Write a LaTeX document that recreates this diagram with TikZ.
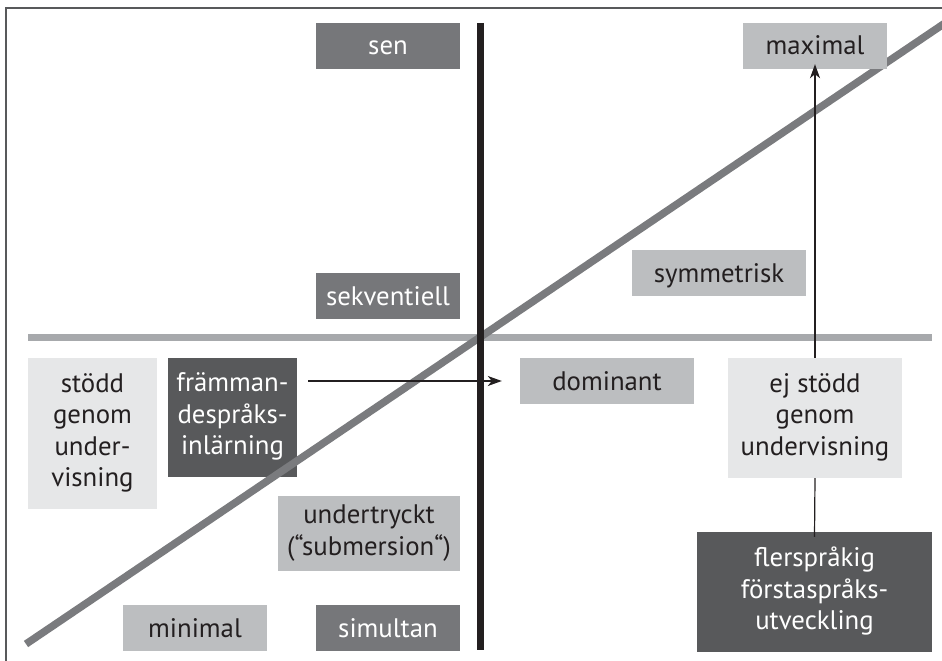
\documentclass[tikz,border=0pt]{standalone}
\usepackage{fontspec}
\setmainfont{PT Sans}
\usetikzlibrary{arrows.meta}

\definecolor{inkdark}{HTML}{231F20}
\definecolor{boxmid}{HTML}{76777A}
\definecolor{boxdeep}{HTML}{58595B}
\definecolor{boxlight}{HTML}{BCBEC0}
\definecolor{boxpale}{HTML}{E6E7E8}
\definecolor{axisgray}{HTML}{A7A9AC}
\definecolor{diaggray}{HTML}{7A7B7E}
\definecolor{framegray}{HTML}{58595B}

\tikzset{
  cell/.style={rectangle, inner sep=0pt, align=center,
    font=\fontsize{26.8}{31.5}\selectfont,
    execute at begin node={\rule{0pt}{25pt}},
    execute at end node={\rule[-7pt]{0pt}{7pt}}},
  midcell/.style={cell, fill=boxmid, text=white},
  deepcell/.style={cell, fill=boxdeep, text=white},
  lightcell/.style={cell, fill=boxlight, text=inkdark},
  palecell/.style={cell, fill=boxpale, text=inkdark},
  link/.style={draw=inkdark, line width=1.2pt},
  tip/.style={-{Stealth[length=14pt, width=10pt, inset=4pt]}},
}

\begin{document}
\begin{tikzpicture}[x=1pt, y=-1pt]
\useasboundingbox (0,0) rectangle (942,661);

% outer frame (top and left edges)
\coordinate (frameTL) at (6,8);
\coordinate (frameTR) at (942,8);
\coordinate (frameBL) at (6,661);
\draw[framegray, line width=1.8pt] (frameBL) -- (frameTL) -- (frameTR);

% horizontal axis
\coordinate (hleft) at (28,337);
\coordinate (hright) at (932,337);
\draw[axisgray, line width=7pt] (hleft) -- (hright);

% box that lies under the diagonal
\node[deepcell, minimum width=129pt, minimum height=119pt] (framman) at (232.5,417.5)
  {främman-\\despråks-\\inlärning};

% diagonal
\coordinate (dlow) at (26,644);
\coordinate (dhigh) at (948,21);
\draw[diaggray, line width=7.5pt] (dlow) -- (dhigh);

% vertical axis
\coordinate (vtop) at (480.5,23);
\coordinate (vbot) at (480.5,650);
\draw[inkdark, line width=7pt] (vtop) -- (vbot);

% remaining boxes
\node[midcell, minimum width=144pt, minimum height=46pt] (sen) at (388,46) {sen};
\node[midcell, minimum width=144pt, minimum height=46pt] (sekv) at (388,296) {sekventiell};
\node[midcell, minimum width=144pt, minimum height=46pt] (simul) at (388,628) {simultan};
\node[lightcell, minimum width=144pt, minimum height=46pt] (maximal) at (815,46) {maximal};
\node[lightcell, minimum width=174pt, minimum height=46pt] (symm) at (719,273) {symmetrisk};
\node[lightcell, minimum width=174pt, minimum height=46pt] (dominant) at (607,381) {dominant};
\node[palecell, minimum width=174pt, minimum height=120pt] (ejstodd) at (815,418)
  {ej stödd\\genom\\undervisning};
\node[deepcell, minimum width=235pt, minimum height=120pt] (flersp) at (814.5,592)
  {flerspråkig\\förstaspråks-\\utveckling};
\node[palecell, minimum width=129pt, minimum height=151pt] (stodd) at (92.5,433.5)
  {stödd\\genom\\under-\\visning};
\node[lightcell, minimum width=182pt, minimum height=75pt] (undertr) at (369,533.5)
  {undertryckt\\(“submersion“)};
\node[lightcell, minimum width=144pt, minimum height=46pt] (minimal) at (195,628) {minimal};

% connectors
\draw[link, tip] ([xshift=11pt]framman.east |- dominant.west) -- ([xshift=-18pt]dominant.west);
\draw[link] ([yshift=-5pt]flersp.north) -- (ejstodd.south);
\draw[link, tip] (ejstodd.north) -- ([yshift=5pt]maximal.south);
\end{tikzpicture}
\end{document}
